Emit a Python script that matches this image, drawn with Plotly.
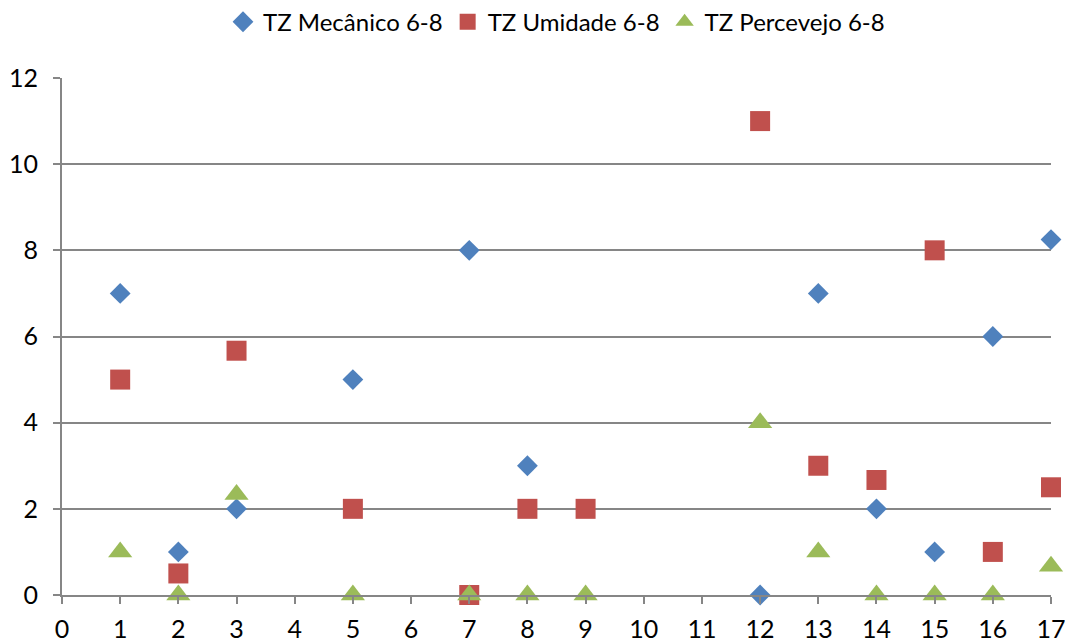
import plotly.graph_objects as go

mec_x = [1, 2, 3, 5, 7, 8, 12, 13, 14, 15, 16, 17]
mec_y = [7, 1, 2, 5, 8, 3, 0, 7, 2, 1, 6, 8.25]

umi_x = [1, 2, 3, 5, 7, 8, 9, 12, 13, 14, 15, 16, 17]
umi_y = [5, 0.5, 5.67, 2, 0, 2, 2, 11, 3, 2.67, 8, 1, 2.5]

per_x = [1, 2, 3, 5, 7, 8, 9, 12, 13, 14, 15, 16, 17]
per_y = [1, 0, 2.33, 0, 0, 0, 0, 4, 1, 0, 0, 0, 0.67]

x_ticks = list(range(0, 18))
y_ticks = [0, 2, 4, 6, 8, 10, 12]

FONT = "Lato"
AX = "#868686"

fig = go.Figure()
fig.add_trace(go.Scatter(x=mec_x, y=mec_y, mode="markers", name="TZ Mecânico 6-8",
                         marker=dict(symbol="diamond", size=16, color="#4F81BD",
                                     line=dict(width=0)), cliponaxis=False))
fig.add_trace(go.Scatter(x=umi_x, y=umi_y, mode="markers", name="TZ Umidade 6-8",
                         marker=dict(symbol="square", size=20, color="#C0504D",
                                     line=dict(width=0)), cliponaxis=False))
fig.add_trace(go.Scatter(x=per_x, y=per_y, mode="markers", name="TZ Percevejo 6-8",
                         marker=dict(symbol="triangle-up", size=21, color="#9BBB59",
                                     line=dict(width=0)), cliponaxis=False))

fig.update_layout(
    width=1065, height=635,
    paper_bgcolor="white", plot_bgcolor="white",
    margin=dict(l=54, r=22, t=70, b=48, autoexpand=False),
    font=dict(family=FONT, size=24, color="#000000"),
    legend=dict(orientation="h", x=0.5, xanchor="center", y=1.108, yanchor="middle",
                font=dict(family=FONT, size=24), itemsizing="trace",
                traceorder="normal", itemwidth=30),
    xaxis=dict(range=[0, 17], tickmode="array", tickvals=x_ticks,
               ticktext=[str(v) for v in x_ticks],
               showgrid=False, zeroline=False,
               showline=True, linecolor=AX, linewidth=2,
               ticks="outside", ticklen=7, tickwidth=2, tickcolor=AX,
               ticklabelstandoff=4,
               tickfont=dict(family=FONT, size=25)),
    yaxis=dict(range=[0, 12], tickmode="array", tickvals=y_ticks,
               ticktext=[str(v) for v in y_ticks],
               showgrid=True, gridcolor=AX, gridwidth=1.5, zeroline=False,
               showline=True, linecolor=AX, linewidth=2,
               ticks="outside", ticklen=7, tickwidth=2, tickcolor=AX,
               ticklabelstandoff=10,
               tickfont=dict(family=FONT, size=25)),
)

fig.write_html("out.html")
